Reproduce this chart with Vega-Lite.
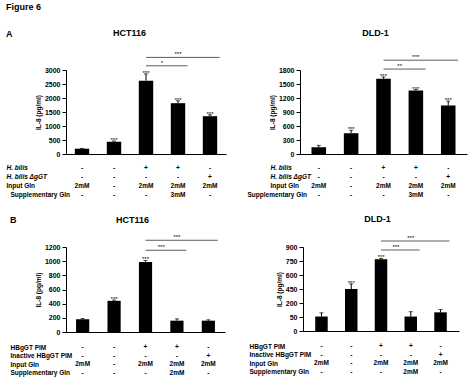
{
"$schema":"https://vega.github.io/schema/vega-lite/v6.json",
"background":"white",
"padding":{"left":6,"top":3,"right":5,"bottom":5},
"config":{"font":"Liberation Sans","view":{"stroke":null},
 "axis":{"grid":false,"labelColor":"black","titleColor":"black","domainColor":"black","tickColor":"black","labelFontSize":7,"labelFontWeight":"bold","titleFontSize":6.5,"titleFontWeight":"bold","tickSize":4,"labelPadding":2,"titlePadding":3},
 "title":{"color":"black"},
 "mark":{"color":"black"},
 "text":{"color":"black"}},
"datasets":{
 "bars":[
  {"p":"AH","c":"1","v":190,"e":200,"s":""},
  {"p":"AH","c":"2","v":440,"e":465,"s":"***"},
  {"p":"AH","c":"3","v":2620,"e":2860,"s":"***"},
  {"p":"AH","c":"4","v":1815,"e":1900,"s":"***"},
  {"p":"AH","c":"5","v":1350,"e":1400,"s":"***"},
  {"p":"AD","c":"1","v":145,"e":185,"s":""},
  {"p":"AD","c":"2","v":445,"e":510,"s":"***"},
  {"p":"AD","c":"3","v":1615,"e":1650,"s":"***"},
  {"p":"AD","c":"4","v":1360,"e":1380,"s":"***"},
  {"p":"AD","c":"5","v":1040,"e":1135,"s":"***"},
  {"p":"BH","c":"1","v":180,"e":190,"s":""},
  {"p":"BH","c":"2","v":440,"e":452,"s":"***"},
  {"p":"BH","c":"3","v":990,"e":1010,"s":"***"},
  {"p":"BH","c":"4","v":160,"e":185,"s":""},
  {"p":"BH","c":"5","v":160,"e":172,"s":""},
  {"p":"BD","c":"1","v":155,"e":195,"s":""},
  {"p":"BD","c":"2","v":450,"e":505,"s":"***"},
  {"p":"BD","c":"3","v":770,"e":778,"s":"***"},
  {"p":"BD","c":"4","v":155,"e":207,"s":""},
  {"p":"BD","c":"5","v":200,"e":230,"s":""}
 ],
 "br":[
  {"p":"AH","a":"3","b":"4","y":3150,"t":"*","lx":"3","edge":true},
  {"p":"AH","a":"3","b":"5","y":3450,"t":"***","lx":"4","edge":false},
  {"p":"AD","a":"3","b":"4","y":1820,"t":"**","lx":"3","edge":true},
  {"p":"AD","a":"3","b":"5","y":2010,"t":"***","lx":"4","edge":false},
  {"p":"BH","a":"3","b":"4","y":1154,"t":"***","lx":"3","edge":true},
  {"p":"BH","a":"3","b":"5","y":1295,"t":"***","lx":"4","edge":false},
  {"p":"BD","a":"3","b":"4","y":868,"t":"***","lx":"3","edge":true},
  {"p":"BD","a":"3","b":"5","y":964,"t":"***","lx":"4","edge":false}
 ],
 "tbl":[
  {"g":"A","r":"H. bilis","c":"1","t":"-"},{"g":"A","r":"H. bilis","c":"2","t":"-"},{"g":"A","r":"H. bilis","c":"3","t":"+"},{"g":"A","r":"H. bilis","c":"4","t":"+"},{"g":"A","r":"H. bilis","c":"5","t":"-"},
  {"g":"A","r":"H. bilis ΔgGT","c":"1","t":"-"},{"g":"A","r":"H. bilis ΔgGT","c":"2","t":"-"},{"g":"A","r":"H. bilis ΔgGT","c":"3","t":"-"},{"g":"A","r":"H. bilis ΔgGT","c":"4","t":"-"},{"g":"A","r":"H. bilis ΔgGT","c":"5","t":"+"},
  {"g":"A","r":"Input Gln","c":"1","t":"2mM"},{"g":"A","r":"Input Gln","c":"2","t":"-"},{"g":"A","r":"Input Gln","c":"3","t":"2mM"},{"g":"A","r":"Input Gln","c":"4","t":"2mM"},{"g":"A","r":"Input Gln","c":"5","t":"2mM"},
  {"g":"A","r":"Supplementary Gln","c":"1","t":"-"},{"g":"A","r":"Supplementary Gln","c":"2","t":"-"},{"g":"A","r":"Supplementary Gln","c":"3","t":"-"},{"g":"A","r":"Supplementary Gln","c":"4","t":"3mM"},{"g":"A","r":"Supplementary Gln","c":"5","t":"-"},
  {"g":"B","r":"HBgGT PIM","c":"1","t":"-"},{"g":"B","r":"HBgGT PIM","c":"2","t":"-"},{"g":"B","r":"HBgGT PIM","c":"3","t":"+"},{"g":"B","r":"HBgGT PIM","c":"4","t":"+"},{"g":"B","r":"HBgGT PIM","c":"5","t":"-"},
  {"g":"B","r":"Inactive HBgGT PIM","c":"1","t":"-"},{"g":"B","r":"Inactive HBgGT PIM","c":"2","t":"-"},{"g":"B","r":"Inactive HBgGT PIM","c":"3","t":"-"},{"g":"B","r":"Inactive HBgGT PIM","c":"4","t":"-"},{"g":"B","r":"Inactive HBgGT PIM","c":"5","t":"+"},
  {"g":"B","r":"Input Gln","c":"1","t":"2mM"},{"g":"B","r":"Input Gln","c":"2","t":"-"},{"g":"B","r":"Input Gln","c":"3","t":"2mM"},{"g":"B","r":"Input Gln","c":"4","t":"2mM"},{"g":"B","r":"Input Gln","c":"5","t":"2mM"},
  {"g":"B","r":"Supplementary Gln","c":"1","t":"-"},{"g":"B","r":"Supplementary Gln","c":"2","t":"-"},{"g":"B","r":"Supplementary Gln","c":"3","t":"-"},{"g":"B","r":"Supplementary Gln","c":"4","t":"2mM"},{"g":"B","r":"Supplementary Gln","c":"5","t":"-"}
 ]
},
"title":{"text":"Figure 6","anchor":"start","fontSize":9,"fontWeight":"bold","offset":16},
"spacing":15,
"vconcat":[
 {"title":{"text":"A","anchor":"start","fontSize":9,"fontWeight":"bold","offset":0,"dy":11},
  "spacing":21,
  "hconcat":[
   {"spacing":6,"vconcat":[
    {"width":160,"height":84,"resolve":{"axis":{"x":"independent","y":"independent"}},
     "layer":[
      {"data":{"name":"bars"},"transform":[{"filter":"datum.p=='AH'"}],"mark":{"type":"bar","color":"black","width":{"band":0.45}},
       "encoding":{"x":{"field":"c","type":"ordinal","scale":{"type":"band","paddingInner":0,"paddingOuter":0},"axis":{"orient":"bottom","title":null,"labels":false,"ticks":false}},
        "y":{"field":"v","type":"quantitative","scale":{"domain":[0,3000],"nice":false},"axis":{"title":"IL-8 (pg/ml)","values":[0,500,1000,1500,2000,2500,3000],"format":"d"}}}},
      {"data":{"name":"bars"},"transform":[{"filter":"datum.p=='AH'"}],"mark":{"type":"rule","color":"black","strokeWidth":1},
       "encoding":{"x":{"field":"c","type":"ordinal","axis":null},"y":{"field":"v","type":"quantitative","axis":null,"scale":{"domain":[0,3000],"nice":false}},"y2":{"field":"e"}}},
      {"data":{"name":"bars"},"transform":[{"filter":"datum.p=='AH'"}],"mark":{"type":"tick","color":"black","thickness":1,"size":4,"orient":"horizontal"},
       "encoding":{"x":{"field":"c","type":"ordinal","axis":null},"y":{"field":"e","type":"quantitative","axis":null,"scale":{"domain":[0,3000],"nice":false}}}},
      {"data":{"name":"bars"},"transform":[{"filter":"datum.p=='AH'"}],"mark":{"type":"text","color":"black","fontSize":6,"baseline":"alphabetic","dy":1},
       "encoding":{"x":{"field":"c","type":"ordinal","axis":null},"y":{"field":"e","type":"quantitative","axis":null,"scale":{"domain":[0,3000],"nice":false}},"text":{"field":"s"}}},
      {"data":{"name":"br"},"transform":[{"filter":"datum.p=='AH'"}],"mark":{"type":"rule","color":"#333333","strokeWidth":0.8},
       "encoding":{"x":{"field":"a","type":"ordinal","axis":{"orient":"top","title":"HCT116","domain":false,"labels":false,"ticks":false,"titleFontSize":9,"titleFontWeight":"bold","titlePadding":33,"titleX":63}},"x2":{"field":"b","bandPosition":0.8},
        "y":{"field":"y","type":"quantitative","axis":null,"scale":{"domain":[0,3000],"nice":false}}}},
      {"data":{"name":"br"},"transform":[{"filter":"datum.p=='AH' && datum.edge"}],"mark":{"type":"text","color":"black","fontSize":6,"baseline":"alphabetic","dy":-1},
       "encoding":{"x":{"field":"lx","type":"ordinal","bandPosition":1,"axis":null},"y":{"field":"y","type":"quantitative","axis":null,"scale":{"domain":[0,3000],"nice":false}},"text":{"field":"t"}}},
      {"data":{"name":"br"},"transform":[{"filter":"datum.p=='AH' && !datum.edge"}],"mark":{"type":"text","color":"black","fontSize":6,"baseline":"alphabetic","dy":-1},
       "encoding":{"x":{"field":"lx","type":"ordinal","axis":null},"y":{"field":"y","type":"quantitative","axis":null,"scale":{"domain":[0,3000],"nice":false}},"text":{"field":"t"}}}
     ]},
    {"width":160,"height":36,"data":{"name":"tbl"},"transform":[{"filter":"datum.g=='A'"}],
     "mark":{"type":"text","color":"black","fontSize":6.5,"fontWeight":"bold"},
     "encoding":{"x":{"field":"c","type":"ordinal","scale":{"type":"band","paddingInner":0,"paddingOuter":0},"axis":null},
      "y":{"field":"r","type":"ordinal","sort":null,"axis":{"title":null,"domain":false,"ticks":false,"labelAlign":"left","labelPadding":{"condition":{"test":"datum.label=='Supplementary Gln'","value":56},"value":60},"labelFontSize":6.5,"labelFontWeight":"bold","labelFontStyle":{"condition":{"test":"indexof(datum.label,'bilis')>=0","value":"italic"},"value":"normal"}}},
      "text":{"field":"t"}}}
   ]},
   {"spacing":6,"vconcat":[
    {"width":167,"height":84,"resolve":{"axis":{"x":"independent","y":"independent"}},
     "layer":[
      {"data":{"name":"bars"},"transform":[{"filter":"datum.p=='AD'"}],"mark":{"type":"bar","color":"black","width":{"band":0.45}},
       "encoding":{"x":{"field":"c","type":"ordinal","scale":{"type":"band","paddingInner":0,"paddingOuter":0.08},"axis":{"orient":"bottom","title":null,"labels":false,"ticks":false}},
        "y":{"field":"v","type":"quantitative","scale":{"domain":[0,1800],"nice":false},"axis":{"title":"IL-8 (pg/ml)","values":[0,300,600,900,1200,1500,1800],"format":"d"}}}},
      {"data":{"name":"bars"},"transform":[{"filter":"datum.p=='AD'"}],"mark":{"type":"rule","color":"black","strokeWidth":1},
       "encoding":{"x":{"field":"c","type":"ordinal","axis":null},"y":{"field":"v","type":"quantitative","axis":null,"scale":{"domain":[0,1800],"nice":false}},"y2":{"field":"e"}}},
      {"data":{"name":"bars"},"transform":[{"filter":"datum.p=='AD'"}],"mark":{"type":"tick","color":"black","thickness":1,"size":4,"orient":"horizontal"},
       "encoding":{"x":{"field":"c","type":"ordinal","axis":null},"y":{"field":"e","type":"quantitative","axis":null,"scale":{"domain":[0,1800],"nice":false}}}},
      {"data":{"name":"bars"},"transform":[{"filter":"datum.p=='AD'"}],"mark":{"type":"text","color":"black","fontSize":6,"baseline":"alphabetic","dy":1},
       "encoding":{"x":{"field":"c","type":"ordinal","axis":null},"y":{"field":"e","type":"quantitative","axis":null,"scale":{"domain":[0,1800],"nice":false}},"text":{"field":"s"}}},
      {"data":{"name":"br"},"transform":[{"filter":"datum.p=='AD'"}],"mark":{"type":"rule","color":"#333333","strokeWidth":0.8},
       "encoding":{"x":{"field":"a","type":"ordinal","axis":{"orient":"top","title":"DLD-1","domain":false,"labels":false,"ticks":false,"titleFontSize":9,"titleFontWeight":"bold","titlePadding":33,"titleX":75}},"x2":{"field":"b","bandPosition":0.8},
        "y":{"field":"y","type":"quantitative","axis":null,"scale":{"domain":[0,1800],"nice":false}}}},
      {"data":{"name":"br"},"transform":[{"filter":"datum.p=='AD' && datum.edge"}],"mark":{"type":"text","color":"black","fontSize":6,"baseline":"alphabetic","dy":-1},
       "encoding":{"x":{"field":"lx","type":"ordinal","bandPosition":1,"axis":null},"y":{"field":"y","type":"quantitative","axis":null,"scale":{"domain":[0,1800],"nice":false}},"text":{"field":"t"}}},
      {"data":{"name":"br"},"transform":[{"filter":"datum.p=='AD' && !datum.edge"}],"mark":{"type":"text","color":"black","fontSize":6,"baseline":"alphabetic","dy":-1},
       "encoding":{"x":{"field":"lx","type":"ordinal","axis":null},"y":{"field":"y","type":"quantitative","axis":null,"scale":{"domain":[0,1800],"nice":false}},"text":{"field":"t"}}}
     ]},
    {"width":167,"height":36,"data":{"name":"tbl"},"transform":[{"filter":"datum.g=='A'"}],
     "mark":{"type":"text","color":"black","fontSize":6.5,"fontWeight":"bold"},
     "encoding":{"x":{"field":"c","type":"ordinal","scale":{"type":"band","paddingInner":0,"paddingOuter":0.08},"axis":null},
      "y":{"field":"r","type":"ordinal","sort":null,"axis":{"title":null,"domain":false,"ticks":false,"labelAlign":"left","labelPadding":{"condition":{"test":"datum.label=='Supplementary Gln'","value":53},"value":30},"labelFontSize":6.5,"labelFontWeight":"bold","labelFontStyle":{"condition":{"test":"indexof(datum.label,'bilis')>=0","value":"italic"},"value":"normal"}}},
      "text":{"field":"t"}}}
   ]}
  ]},
 {"title":{"text":"B","anchor":"start","fontSize":9,"fontWeight":"bold","offset":0,"dy":11},
  "spacing":24,
  "hconcat":[
   {"spacing":8,"vconcat":[
    {"width":159,"height":85,"resolve":{"axis":{"x":"independent","y":"independent"}},
     "layer":[
      {"data":{"name":"bars"},"transform":[{"filter":"datum.p=='BH'"}],"mark":{"type":"bar","color":"black","width":{"band":0.42}},
       "encoding":{"x":{"field":"c","type":"ordinal","scale":{"type":"band","paddingInner":0,"paddingOuter":0.03},"axis":{"orient":"bottom","title":null,"labels":false,"ticks":false}},
        "y":{"field":"v","type":"quantitative","scale":{"domain":[0,1200],"nice":false},"axis":{"title":"IL-8 (pg/ml)","values":[0,200,400,600,800,1000,1200],"format":"d"}}}},
      {"data":{"name":"bars"},"transform":[{"filter":"datum.p=='BH'"}],"mark":{"type":"rule","color":"black","strokeWidth":1},
       "encoding":{"x":{"field":"c","type":"ordinal","axis":null},"y":{"field":"v","type":"quantitative","axis":null,"scale":{"domain":[0,1200],"nice":false}},"y2":{"field":"e"}}},
      {"data":{"name":"bars"},"transform":[{"filter":"datum.p=='BH'"}],"mark":{"type":"tick","color":"black","thickness":1,"size":4,"orient":"horizontal"},
       "encoding":{"x":{"field":"c","type":"ordinal","axis":null},"y":{"field":"e","type":"quantitative","axis":null,"scale":{"domain":[0,1200],"nice":false}}}},
      {"data":{"name":"bars"},"transform":[{"filter":"datum.p=='BH'"}],"mark":{"type":"text","color":"black","fontSize":6,"baseline":"alphabetic","dy":1},
       "encoding":{"x":{"field":"c","type":"ordinal","axis":null},"y":{"field":"e","type":"quantitative","axis":null,"scale":{"domain":[0,1200],"nice":false}},"text":{"field":"s"}}},
      {"data":{"name":"br"},"transform":[{"filter":"datum.p=='BH'"}],"mark":{"type":"rule","color":"#333333","strokeWidth":0.8},
       "encoding":{"x":{"field":"a","type":"ordinal","axis":{"orient":"top","title":"HCT116","domain":false,"labels":false,"ticks":false,"titleFontSize":9,"titleFontWeight":"bold","titlePadding":23,"titleX":66}},"x2":{"field":"b","bandPosition":0.8},
        "y":{"field":"y","type":"quantitative","axis":null,"scale":{"domain":[0,1200],"nice":false}}}},
      {"data":{"name":"br"},"transform":[{"filter":"datum.p=='BH' && datum.edge"}],"mark":{"type":"text","color":"black","fontSize":6,"baseline":"alphabetic","dy":-1},
       "encoding":{"x":{"field":"lx","type":"ordinal","bandPosition":1,"axis":null},"y":{"field":"y","type":"quantitative","axis":null,"scale":{"domain":[0,1200],"nice":false}},"text":{"field":"t"}}},
      {"data":{"name":"br"},"transform":[{"filter":"datum.p=='BH' && !datum.edge"}],"mark":{"type":"text","color":"black","fontSize":6,"baseline":"alphabetic","dy":-1},
       "encoding":{"x":{"field":"lx","type":"ordinal","axis":null},"y":{"field":"y","type":"quantitative","axis":null,"scale":{"domain":[0,1200],"nice":false}},"text":{"field":"t"}}}
     ]},
    {"width":159,"height":34,"data":{"name":"tbl"},"transform":[{"filter":"datum.g=='B'"}],
     "mark":{"type":"text","color":"black","fontSize":6.5,"fontWeight":"bold"},
     "encoding":{"x":{"field":"c","type":"ordinal","scale":{"type":"band","paddingInner":0,"paddingOuter":0.03},"axis":null},
      "y":{"field":"r","type":"ordinal","sort":null,"axis":{"title":null,"domain":false,"ticks":false,"labelAlign":"left","labelPadding":56,"labelFontSize":6.5,"labelFontWeight":"bold"}},
      "text":{"field":"t"}}}
   ]},
   {"spacing":8,"vconcat":[
    {"width":156,"height":84,"resolve":{"axis":{"x":"independent","y":"independent"}},
     "layer":[
      {"data":{"name":"bars"},"transform":[{"filter":"datum.p=='BD'"}],"mark":{"type":"bar","color":"black","width":{"band":0.42}},
       "encoding":{"x":{"field":"c","type":"ordinal","scale":{"type":"band","paddingInner":0,"paddingOuter":0.12},"axis":{"orient":"bottom","title":null,"labels":false,"ticks":false}},
        "y":{"field":"v","type":"quantitative","scale":{"domain":[0,900],"nice":false},"axis":{"title":"IL-8 (pg/ml)","values":[0,150,300,450,600,750,900],"format":"d","labelExpr":"datum.value == 150 ? '50' : datum.value == 300 ? '200' : datum.label"}}}},
      {"data":{"name":"bars"},"transform":[{"filter":"datum.p=='BD'"}],"mark":{"type":"rule","color":"black","strokeWidth":1},
       "encoding":{"x":{"field":"c","type":"ordinal","axis":null},"y":{"field":"v","type":"quantitative","axis":null,"scale":{"domain":[0,900],"nice":false}},"y2":{"field":"e"}}},
      {"data":{"name":"bars"},"transform":[{"filter":"datum.p=='BD'"}],"mark":{"type":"tick","color":"black","thickness":1,"size":4,"orient":"horizontal"},
       "encoding":{"x":{"field":"c","type":"ordinal","axis":null},"y":{"field":"e","type":"quantitative","axis":null,"scale":{"domain":[0,900],"nice":false}}}},
      {"data":{"name":"bars"},"transform":[{"filter":"datum.p=='BD'"}],"mark":{"type":"text","color":"black","fontSize":6,"baseline":"alphabetic","dy":1},
       "encoding":{"x":{"field":"c","type":"ordinal","axis":null},"y":{"field":"e","type":"quantitative","axis":null,"scale":{"domain":[0,900],"nice":false}},"text":{"field":"s"}}},
      {"data":{"name":"br"},"transform":[{"filter":"datum.p=='BD'"}],"mark":{"type":"rule","color":"#333333","strokeWidth":0.8},
       "encoding":{"x":{"field":"a","type":"ordinal","axis":{"orient":"top","title":"DLD-1","domain":false,"labels":false,"ticks":false,"titleFontSize":9,"titleFontWeight":"bold","titlePadding":24,"titleX":74}},"x2":{"field":"b","bandPosition":0.8},
        "y":{"field":"y","type":"quantitative","axis":null,"scale":{"domain":[0,900],"nice":false}}}},
      {"data":{"name":"br"},"transform":[{"filter":"datum.p=='BD' && datum.edge"}],"mark":{"type":"text","color":"black","fontSize":6,"baseline":"alphabetic","dy":-1},
       "encoding":{"x":{"field":"lx","type":"ordinal","bandPosition":1,"axis":null},"y":{"field":"y","type":"quantitative","axis":null,"scale":{"domain":[0,900],"nice":false}},"text":{"field":"t"}}},
      {"data":{"name":"br"},"transform":[{"filter":"datum.p=='BD' && !datum.edge"}],"mark":{"type":"text","color":"black","fontSize":6,"baseline":"alphabetic","dy":-1},
       "encoding":{"x":{"field":"lx","type":"ordinal","axis":null},"y":{"field":"y","type":"quantitative","axis":null,"scale":{"domain":[0,900],"nice":false}},"text":{"field":"t"}}}
     ]},
    {"width":156,"height":34,"data":{"name":"tbl"},"transform":[{"filter":"datum.g=='B'"}],
     "mark":{"type":"text","color":"black","fontSize":6.5,"fontWeight":"bold"},
     "encoding":{"x":{"field":"c","type":"ordinal","scale":{"type":"band","paddingInner":0,"paddingOuter":0.12},"axis":null},
      "y":{"field":"r","type":"ordinal","sort":null,"axis":{"title":null,"domain":false,"ticks":false,"labelAlign":"left","labelPadding":54,"labelFontSize":6.5,"labelFontWeight":"bold"}},
      "text":{"field":"t"}}}
   ]}
  ]}
]
}
